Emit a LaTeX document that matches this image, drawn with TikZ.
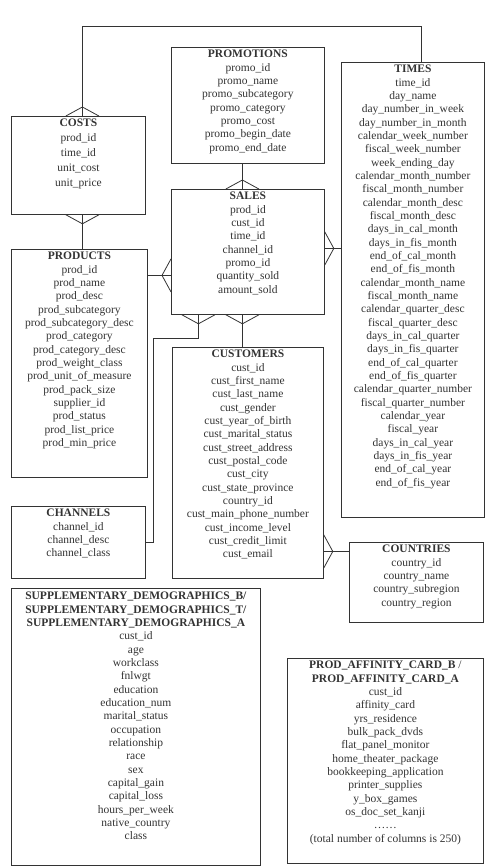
\documentclass[tikz,border=0pt]{standalone}
\usepackage{fontspec}
\setmainfont{Liberation Serif}
\usetikzlibrary{positioning,calc}
\definecolor{erline}{RGB}{51,51,51}
\tikzset{
 tbl/.style={rectangle,draw=erline,line width=0.8pt,anchor=north west,inner sep=0pt},
 cols/.style={align=center,inner sep=0pt,text=erline,font=\fontsize{11.5}{13.33}\selectfont},
 link/.style={draw=erline,line width=0.8pt},
 crowfoot/.pic={\draw[link] (-16.5pt,0pt) -- (0pt,9pt) -- (16.5pt,0pt);}}

\begin{document}
\begin{tikzpicture}[x=1pt,y=-1pt]
\useasboundingbox (0,0) rectangle (495,868);
\node[tbl,minimum width=134pt,minimum height=98pt] (costs) at (11,116) {};
\node[tbl,minimum width=153pt,minimum height=116pt] (promotions) at (171,47) {};
\node[tbl,minimum width=143pt,minimum height=455pt] (times) at (341,62) {};
\node[tbl,minimum width=153pt,minimum height=125pt] (sales) at (171,189) {};
\node[tbl,minimum width=136pt,minimum height=228pt] (products) at (11,249) {};
\node[tbl,minimum width=151pt,minimum height=231pt] (customers) at (172,347) {};
\node[tbl,minimum width=134pt,minimum height=72pt] (channels) at (11,506) {};
\node[tbl,minimum width=134pt,minimum height=80pt] (countries) at (349,542) {};
\node[tbl,minimum width=249pt,minimum height=277pt] (suppdemo) at (11,588) {};
\node[tbl,minimum width=196pt,minimum height=205pt] (affinity) at (287,658) {};

\node[cols,font=\fontsize{11.5}{15}\selectfont,below=3pt of costs.north] (costs-cols) {\textbf{COSTS}\\prod\_id\\time\_id\\unit\_cost\\unit\_price};
\node[cols,below=3pt of promotions.north] (promotions-cols) {\textbf{PROMOTIONS}\\promo\_id\\promo\_name\\promo\_subcategory\\promo\_category\\promo\_cost\\promo\_begin\_date\\promo\_end\_date};
\node[cols,below=3pt of times.north] (times-cols) {\textbf{TIMES}\\time\_id\\day\_name\\day\_number\_in\_week\\day\_number\_in\_month\\calendar\_week\_number\\fiscal\_week\_number\\week\_ending\_day\\calendar\_month\_number\\fiscal\_month\_number\\calendar\_month\_desc\\fiscal\_month\_desc\\days\_in\_cal\_month\\days\_in\_fis\_month\\end\_of\_cal\_month\\end\_of\_fis\_month\\calendar\_month\_name\\fiscal\_month\_name\\calendar\_quarter\_desc\\fiscal\_quarter\_desc\\days\_in\_cal\_quarter\\days\_in\_fis\_quarter\\end\_of\_cal\_quarter\\end\_of\_fis\_quarter\\calendar\_quarter\_number\\fiscal\_quarter\_number\\calendar\_year\\fiscal\_year\\days\_in\_cal\_year\\days\_in\_fis\_year\\end\_of\_cal\_year\\end\_of\_fis\_year};
\node[cols,below=3pt of sales.north] (sales-cols) {\textbf{SALES}\\prod\_id\\cust\_id\\time\_id\\channel\_id\\promo\_id\\quantity\_sold\\amount\_sold};
\node[cols,below=3pt of products.north] (products-cols) {\textbf{PRODUCTS}\\prod\_id\\prod\_name\\prod\_desc\\prod\_subcategory\\prod\_subcategory\_desc\\prod\_category\\prod\_category\_desc\\prod\_weight\_class\\prod\_unit\_of\_measure\\prod\_pack\_size\\supplier\_id\\prod\_status\\prod\_list\_price\\prod\_min\_price};
\node[cols,below=3pt of customers.north] (customers-cols) {\textbf{CUSTOMERS}\\cust\_id\\cust\_first\_name\\cust\_last\_name\\cust\_gender\\cust\_year\_of\_birth\\cust\_marital\_status\\cust\_street\_address\\cust\_postal\_code\\cust\_city\\cust\_state\_province\\country\_id\\cust\_main\_phone\_number\\cust\_income\_level\\cust\_credit\_limit\\cust\_email};
\node[cols,below=3pt of channels.north] (channels-cols) {\textbf{CHANNELS}\\channel\_id\\channel\_desc\\channel\_class};
\node[cols,below=3pt of countries.north] (countries-cols) {\textbf{COUNTRIES}\\country\_id\\country\_name\\country\_subregion\\country\_region};
\node[cols,below=4pt of suppdemo.north] (suppdemo-cols) {\textbf{SUPPLEMENTARY\_DEMOGRAPHICS\_B/}\\\textbf{SUPPLEMENTARY\_DEMOGRAPHICS\_T/}\\\textbf{SUPPLEMENTARY\_DEMOGRAPHICS\_A}\\cust\_id\\age\\workclass\\fnlwgt\\education\\education\_num\\marital\_status\\occupation\\relationship\\race\\sex\\capital\_gain\\capital\_loss\\hours\_per\_week\\native\_country\\class};
\node[cols,below=3pt of affinity.north] (affinity-cols) {\textbf{PROD\_AFFINITY\_CARD\_B} /\\\textbf{PROD\_AFFINITY\_CARD\_A}\hspace*{14pt}\\cust\_id\\affinity\_card\\yrs\_residence\\bulk\_pack\_dvds\\flat\_panel\_monitor\\home\_theater\_package\\bookkeeping\_application\\printer\_supplies\\y\_box\_games\\os\_doc\_set\_kanji\\……\\(total number of columns is 250)};

\coordinate (topline) at (0,26);
\coordinate (costs-up) at ([xshift=4pt]costs.north);
\coordinate (costs-dn) at ([xshift=4pt]costs.south);
\coordinate (times-up) at ([xshift=8.5pt]times.north);
\coordinate (promo-dn) at ([xshift=-5.5pt]promotions.south);
\coordinate (sales-rt) at ([yshift=3.5pt]sales.east);
\coordinate (sales-lt) at ([yshift=-23.5pt]sales.west);
\coordinate (sales-b1) at ([xshift=-49.5pt]sales.south);
\coordinate (sales-b2) at ([xshift=-5.5pt]sales.south);
\coordinate (cust-rt) at ([yshift=-88.5pt]customers.east);

\draw[link] (costs-up) -- (costs-up |- topline) -| (times-up);
\draw[link] (costs-dn) -- (costs-dn |- products.north);
\draw[link] (promo-dn) -- (promo-dn |- sales.north);
\draw[link] (sales-rt) -- (sales-rt -| times.west);
\draw[link] (sales-lt -| products.east) -- (sales-lt);
\draw[link] (sales-b1) |- ++(-45,24) |- (channels.east);
\draw[link] (sales-b2) -- (sales-b2 |- customers.north);
\draw[link] (cust-rt) -- (cust-rt -| countries.west);

\pic at (costs-up) {crowfoot};
\pic[rotate=180] at (costs-dn) {crowfoot};
\pic at (promo-dn |- sales.north) {crowfoot};
\pic[rotate=-90] at (sales-rt) {crowfoot};
\pic[rotate=90] at (sales-lt) {crowfoot};
\pic[rotate=180] at (sales-b1) {crowfoot};
\pic[rotate=180] at (sales-b2) {crowfoot};
\pic[rotate=-90] at (cust-rt) {crowfoot};
\end{tikzpicture}
\end{document}
